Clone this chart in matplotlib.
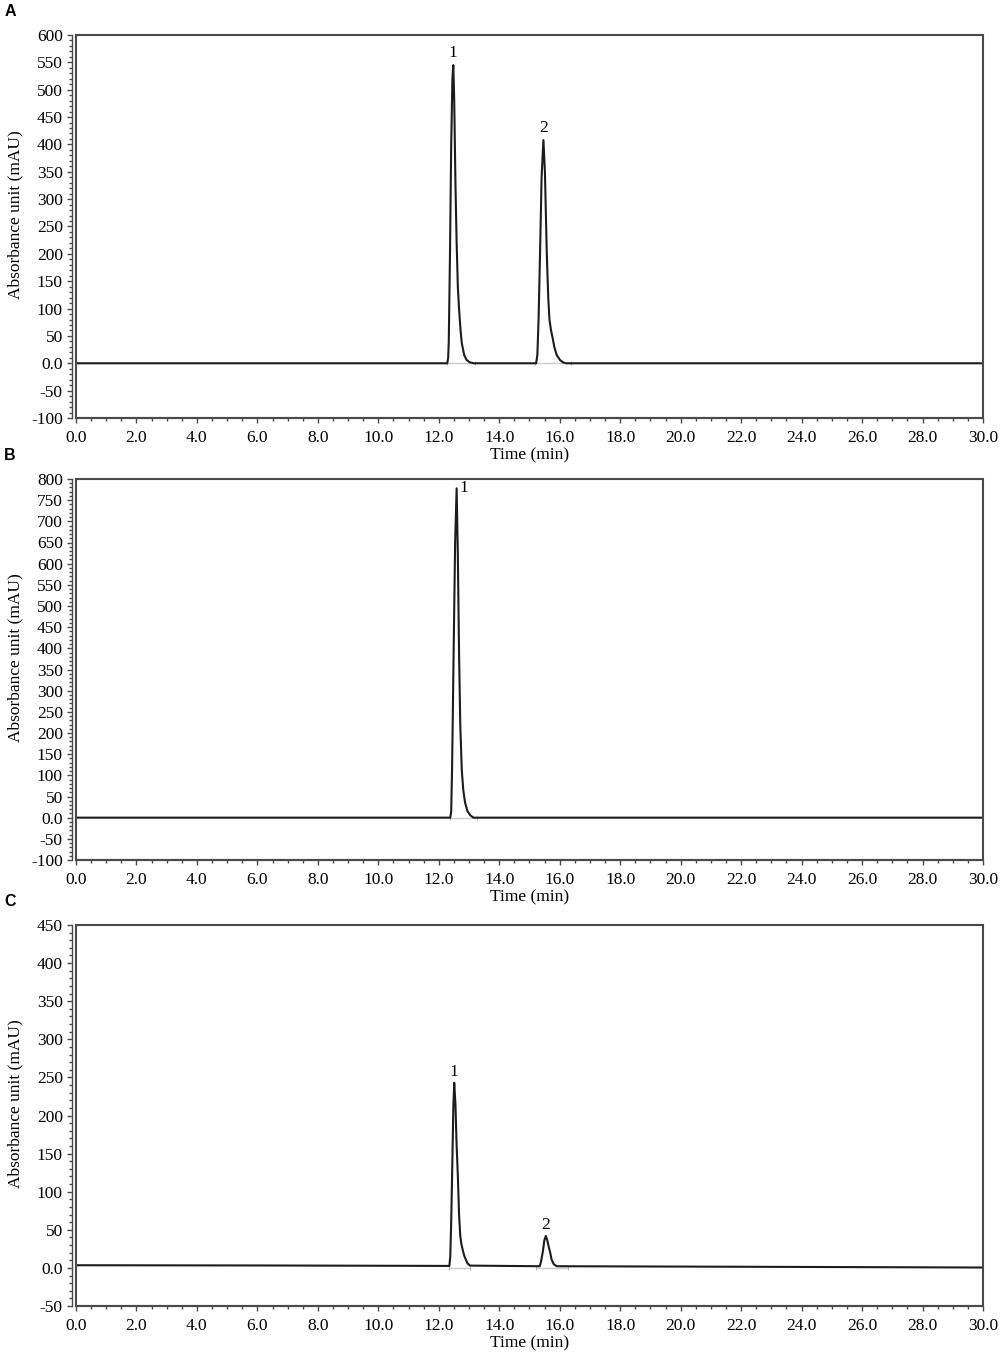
import matplotlib
matplotlib.use("Agg")
import matplotlib.pyplot as plt
from matplotlib.patches import Rectangle
from matplotlib.ticker import MultipleLocator, FuncFormatter

# --- Data (time in min, absorbance in mAU) ---

a_time = [0.0, 12.28, 12.31, 12.33, 12.37, 12.41, 12.45, 12.48, 12.51, 12.55, 12.59,
          12.63, 12.67, 12.72, 12.76, 12.84, 12.92, 13.02, 13.15,
          15.22, 15.26, 15.30, 15.35, 15.40, 15.46, 15.51, 15.57, 15.62, 15.66,
          15.71, 15.77, 15.82, 15.90, 16.01, 16.10, 16.20, 30.0]
a_abs = [0.0, 0.0, 10, 40, 200, 400, 520, 545, 480, 330, 220,
         140, 99, 60, 37, 15, 6, 2, 0.0,
         0.0, 15, 80, 204, 340, 408, 350, 204, 120, 80,
         61, 45, 30, 15, 6, 2, 0.0, 0.0]

b_time = [0.0, 12.38, 12.41, 12.44, 12.49, 12.54, 12.59, 12.63, 12.67, 12.71, 12.76,
          12.81, 12.87, 12.95, 13.05, 13.15, 30.0]
b_abs = [0.0, 0.0, 15, 120, 389, 650, 778, 620, 389, 220, 113,
         65, 35, 15, 5, 0.0, 0.0]

c_time = [0.0, 6.0, 12.35, 12.38, 12.41, 12.44, 12.48, 12.51, 12.55, 12.59, 12.63,
          12.67, 12.71, 12.74, 12.80, 12.85, 12.95, 13.03,
          15.34, 15.38, 15.44, 15.49, 15.54, 15.59, 15.64, 15.68, 15.73, 15.80, 15.90,
          22.0, 30.0]
c_abs = [3.5, 3.2, 2.6, 15, 60, 121, 210, 243, 215, 160, 121,
         70, 42, 33, 22, 15, 6, 3,
         2.2, 8, 21, 36, 42, 36, 27, 21, 11, 5, 2.2,
         1.5, 0.5]

# integration marks (start, end) of each peak
a_windows = [(12.26, 13.20), (15.18, 16.37)]
b_windows = [(12.37, 13.27)]
c_windows = [(12.34, 13.03), (15.22, 16.27)]

# peak labels: (label, window used to find apex, text offset in points)
a_peaks = [("1", (12.0, 13.0), (0, 9)), ("2", (15.0, 16.0), (0, 9))]
b_peaks = [("1", (12.0, 13.0), (5.5, 0))]
c_peaks = [("1", (12.0, 13.0), (0, 8)), ("2", (15.0, 16.0), (0, 8))]

panels = [
    ("A", a_time, a_abs, a_windows, a_peaks, (-100, 600)),
    ("B", b_time, b_abs, b_windows, b_peaks, (-100, 800)),
    ("C", c_time, c_abs, c_windows, c_peaks, (-50, 450)),
]

W, H = 1003, 1362
left, right = 76 / W, 983 / W
boxes = [(35, 418), (479, 860), (925, 1306)]  # (top, bottom) in px

serif = "Liberation Serif"
fs = 12.5
line_col = "#1c1c1c"
frame_col = "#4a4a4a"

fig = plt.figure(figsize=(W / 100, H / 100), dpi=100)


def ytick_fmt(v, pos):
    return "0.0" if abs(v) < 1e-9 else "%d" % v


for (letter, t, y, windows, peaks, ylim), (top, bot) in zip(panels, boxes):
    ax = fig.add_axes([left, 1 - bot / H, right - left, (bot - top) / H])
    ax.set_xlim(0, 30)
    ax.set_ylim(*ylim)

    # frame as a plain rectangle, the left axis sits slightly outside it
    ax.add_patch(Rectangle((0, 0), 1, 1, transform=ax.transAxes, fill=False,
                           ec=frame_col, lw=1.5, clip_on=False, zorder=5))
    for s in ["top", "right"]:
        ax.spines[s].set_visible(False)
    ax.spines["left"].set_position(("outward", 3))
    ax.spines["left"].set_color(frame_col)
    ax.spines["left"].set_linewidth(1.0)
    ax.spines["bottom"].set_color(frame_col)
    ax.spines["bottom"].set_linewidth(1.5)

    ax.xaxis.set_major_locator(MultipleLocator(2))
    ax.xaxis.set_minor_locator(MultipleLocator(0.5))
    ax.xaxis.set_major_formatter(FuncFormatter(lambda v, p: "%.1f" % v))
    ax.yaxis.set_major_locator(MultipleLocator(50))
    ax.yaxis.set_minor_locator(MultipleLocator(10))
    ax.yaxis.set_major_formatter(FuncFormatter(ytick_fmt))
    ax.tick_params(which="both", direction="out", color=frame_col, width=1.0)
    ax.tick_params(which="major", length=3.5, labelsize=fs, pad=3)
    ax.tick_params(which="minor", length=2.5)
    ax.tick_params(axis="x", which="major", pad=5)
    for lab in ax.get_xticklabels() + ax.get_yticklabels():
        lab.set_fontfamily(serif)

    # faint grey integration baselines under the peaks
    for t0, t1 in windows:
        ax.plot([t0, t1], [0, 0], color="#cccccc", lw=1.0, zorder=1)
        ax.plot([t0, t1], [0, 0], ls="none", marker="|", ms=3.5, mew=0.7,
                color="#b0b0b0", zorder=1)

    ax.plot(t, y, color=line_col, lw=1.5, zorder=3)

    # peak numbers above the apex
    for name, (w0, w1), off in peaks:
        pts = [(ti, yi) for ti, yi in zip(t, y) if w0 <= ti <= w1]
        tp, yp = max(pts, key=lambda p: p[1])
        ax.annotate(name, (tp, yp), xytext=off, textcoords="offset points",
                    ha="center", va="center", fontsize=fs, family=serif)

    ax.set_xlabel("Time (min)", fontsize=fs, family=serif, labelpad=1)
    yc = 1 - ((top + bot) / 2 - 12) / H
    fig.text(15 / W, yc, "Absorbance unit (mAU)", rotation=90, ha="center",
             va="center", fontsize=fs, family=serif)
    fig.text(10 / W, 1 - (top - 23) / H, letter, ha="center", va="center",
             fontsize=11.5, fontweight="bold", family="Liberation Sans")

fig.savefig("out.png", dpi=100)
